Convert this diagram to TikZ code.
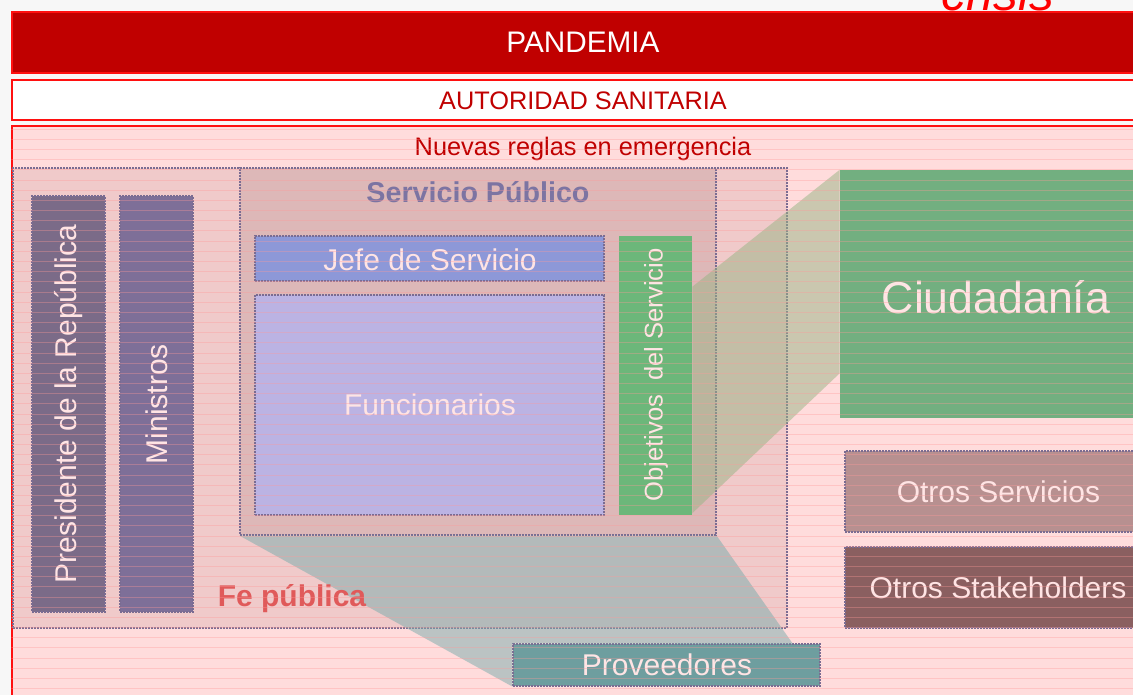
\documentclass[tikz,border=0pt]{standalone}
\usepackage{fontspec}
\setmainfont{Liberation Sans}
\usetikzlibrary{calc}

\newlength{\px}
\setlength{\px}{0.75pt}

\definecolor{bggrey}{HTML}{F7F7F7}
\definecolor{pandred}{HTML}{C00000}
\definecolor{edgered}{HTML}{FF1010}
\definecolor{pinkbg}{HTML}{FFDCDC}
\definecolor{fepink}{HTML}{F0CACA}
\definecolor{servpink}{HTML}{DDB8B8}
\definecolor{framegrey}{HTML}{7A6C92}
\definecolor{presc}{HTML}{7B6B88}
\definecolor{minic}{HTML}{7E6F98}
\definecolor{jefec}{HTML}{8D98D8}
\definecolor{funcc}{HTML}{BBB3E3}
\definecolor{objc}{HTML}{6CB77A}
\definecolor{ciudc}{HTML}{72AF80}
\definecolor{otrservc}{HTML}{B79090}
\definecolor{otrstakec}{HTML}{8A5F60}
\definecolor{provc}{HTML}{6E9E9F}
\definecolor{softwhite}{HTML}{FFE4E4}
\definecolor{servtitle}{HTML}{7C74A2}
\definecolor{fetext}{HTML}{E05A5A}
\definecolor{projgreen}{HTML}{97B484}
\definecolor{projteal}{HTML}{78ACAC}

\tikzset{
  bar/.style={draw=edgered, line width=1.2\px, inner sep=0pt},
  area/.style={draw=framegrey, dash pattern=on 2\px off 1\px, line width=1.2\px, inner sep=0pt},
  blk/.style={area},
  lbl/.style={text=softwhite, inner sep=0pt, font=\fontsize{22.5}{24}\selectfont},
  proj/.style={fill opacity=0.5, draw=none},
  gridline/.style={draw=pink!80!red, line width=1\px, opacity=0.35}
}

\begin{document}
\begin{tikzpicture}[x=1\px, y=-1\px]
  \useasboundingbox (0,0) rectangle (1133,695);
  \clip (0,0) rectangle (1133,695);
  \fill[bggrey] (0,0) rectangle (1133,695);

  % title strip
  \node[anchor=base, text=red, inner sep=0pt, font=\itshape\fontsize{37}{40}\selectfont] (crisis) at (998,11) {crisis};

  \node[bar, fill=pandred, minimum width=1142\px, minimum height=61\px] (pandemia) at (583,42.5) {};
  \node[text=white, inner sep=0pt, font=\fontsize{22.3}{24}\selectfont] (pandemiaT) at (pandemia.center) {PANDEMIA};

  \node[bar, fill=white, minimum width=1142\px, minimum height=40\px] (autoridad) at (583,100) {};
  \node[text=pandred, inner sep=0pt, font=\fontsize{19}{21}\selectfont] (autoridadT) at (583,101) {AUTORIDAD SANITARIA};

  \node[bar, fill=pinkbg, minimum width=1142\px, minimum height=594\px] (nuevas) at (583,423) {};
  \node[text=pandred, inner sep=0pt, font=\fontsize{19}{21}\selectfont] (nuevasT) at (583,148.5) {Nuevas reglas en emergencia};

  % areas
  \node[area, fill=fepink, minimum width=774\px, minimum height=460\px] (fe) at (400,398) {};
  \node[area, fill=servpink, minimum width=476\px, minimum height=367\px] (serv) at (478,351.5) {};

  % blocks
  \node[blk, fill=presc, minimum width=73\px, minimum height=416\px] (pres) at (68.5,404) {};
  \node[blk, fill=minic, minimum width=73\px, minimum height=416\px] (mini) at (156.5,404) {};
  \node[blk, fill=jefec, minimum width=349\px, minimum height=45\px] (jefe) at (429.5,258.5) {};
  \node[blk, fill=funcc, minimum width=349\px, minimum height=220\px] (func) at (429.5,405) {};
  \node[draw=none, fill=objc, inner sep=0pt, minimum width=73\px, minimum height=279\px] (obj) at (655.5,375.5) {};
  \node[draw=none, fill=ciudc, inner sep=0pt, minimum width=314\px, minimum height=248\px] (ciud) at (997,294) {};
  \node[blk, fill=otrservc, minimum width=309\px, minimum height=81\px] (otrserv) at (999.5,491.5) {};
  \node[blk, fill=otrstakec, minimum width=309\px, minimum height=81\px] (otrstake) at (999.5,587.5) {};
  \node[blk, fill=provc, minimum width=307\px, minimum height=42\px] (prov) at (666.5,665) {};

  % projections
  \fill[proj, fill=projgreen] ($(obj.north east)+(0,51)$) -- (ciud.north west)
    -- ($(ciud.south west)+(0,-45)$) -- ($(obj.south east)+(0,-2)$) -- cycle;
  \fill[proj, fill=projteal] (serv.south west) -- (serv.south east) -- (793,644)
    -- (prov.north west) -- (prov.south west) -- cycle;

  % labels
  \node[text=servtitle, inner sep=0pt, font=\bfseries\fontsize{21.5}{23}\selectfont] (servT) at (478,192) {Servicio Público};
  \node[text=fetext, inner sep=0pt, font=\bfseries\fontsize{22.5}{24}\selectfont] (feT) at (292,598.5) {Fe pública};
  \node[lbl, rotate=90] (presT) at (pres.center) {Presidente de la República};
  \node[lbl, rotate=90] (miniT) at (mini.center) {Ministros};
  \node[lbl] (jefeT) at (430,260) {Jefe de Servicio};
  \node[lbl] (funcT) at (430,405) {Funcionarios};
  \node[lbl, rotate=90, font=\fontsize{19.2}{21}\selectfont] (objT) at (656,375) {Objetivos\ \ del Servicio};
  \node[lbl, font=\fontsize{33.5}{36}\selectfont] (ciudT) at (996,297) {Ciudadanía};
  \node[lbl] (otrservT) at (998.5,492) {Otros Servicios};
  \node[lbl] (otrstakeT) at (998,588) {Otros Stakeholders};
  \node[lbl] (provT) at (667,665) {Proveedores};

  % screen texture
  \begin{scope}
    \clip (nuevas.north west) rectangle (nuevas.south east);
    \foreach \y in {129.3,139.47,...,695} {
      \draw[gridline] (nuevas.west |- 0,\y) -- (nuevas.east |- 0,\y);
    }
  \end{scope}
\end{tikzpicture}
\end{document}
